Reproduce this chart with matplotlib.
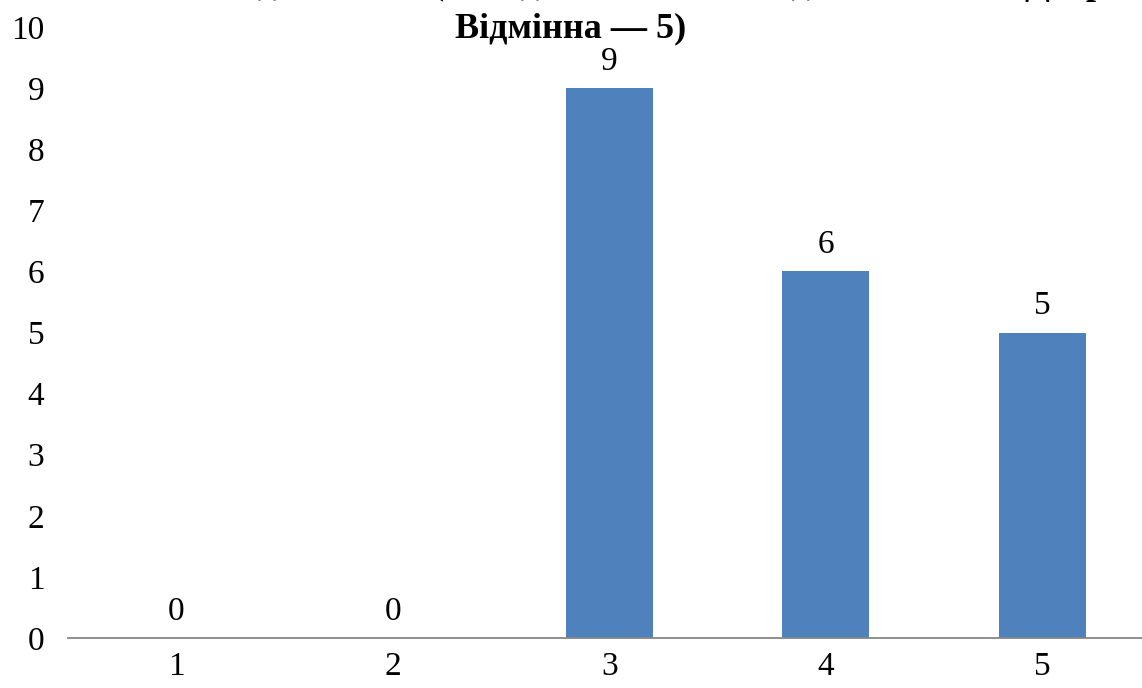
import matplotlib
matplotlib.use("Agg")
import matplotlib.pyplot as plt

categories = ["1", "2", "3", "4", "5"]
values = [0, 0, 9, 6, 5]
yticks = list(range(0, 11))
title = "Рівень навчальних досягнень (Незадовільна — 2, Задовільна — 3, Добра — 4,\nВідмінна — 5)"

plt.rcParams['font.family'] = ['Liberation Serif', 'DejaVu Serif']

fig = plt.figure(figsize=(11.42, 6.88), dpi=100)
W, H = 1142, 688
left, right, top, bottom = 68, 1150.5, 27, 638
ax = fig.add_axes([left / W, (H - bottom) / H, (right - left) / W, (bottom - top) / H])

x = list(range(len(categories)))
bars = ax.bar(x, values, width=0.4, color="#4F81BD", zorder=2)
ax.set_xlim(-0.5, 4.5)
ax.set_ylim(0, 10)
ax.set_yticks(yticks)
ax.set_xticks(x)
ax.set_xticklabels(categories)
ax.tick_params(axis='both', length=0, labelsize=24)
ax.tick_params(axis='y', pad=17)
ax.tick_params(axis='x', pad=10)
for s in ["top", "right", "left"]:
    ax.spines[s].set_visible(False)
ax.spines["bottom"].set_color("#868686")
ax.spines["bottom"].set_linewidth(1.3)

for xi, v in zip(x, values):
    ax.annotate(str(v), (xi, v), xytext=(0, 8), textcoords="offset points",
                ha="center", va="bottom", fontsize=24)

fig.text(571 / W, (H - 45) / H, title, ha="center", va="bottom",
         fontsize=26, fontweight="bold", linespacing=1.42)

fig.savefig("out.png", dpi=100)
